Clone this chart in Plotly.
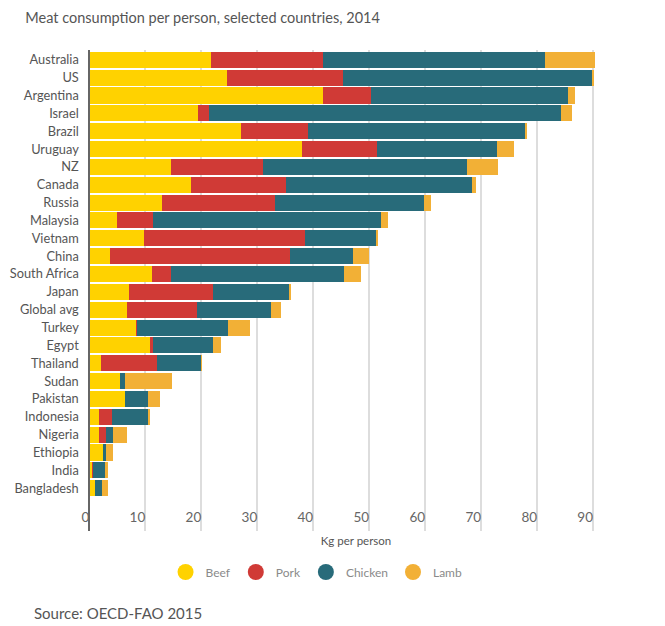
import plotly.graph_objects as go

countries = ["Australia", "US", "Argentina", "Israel", "Brazil", "Uruguay", "NZ", "Canada",
             "Russia", "Malaysia", "Vietnam", "China", "South Africa", "Japan", "Global avg",
             "Turkey", "Egypt", "Thailand", "Sudan", "Pakistan", "Indonesia", "Nigeria",
             "Ethiopia", "India", "Bangladesh"]
beef = [21.8, 24.6, 41.8, 19.5, 27.1, 38.0, 14.6, 18.2, 13.0, 5.0, 9.8, 3.75, 11.25, 7.1, 6.8,
        8.4, 10.9, 2.1, 5.4, 6.4, 1.8, 1.8, 2.5, 0.6, 1.0]
pork = [20.0, 20.8, 8.6, 1.9, 11.9, 13.4, 16.5, 17.0, 20.2, 6.3, 28.8, 32.1, 3.4, 15.0, 12.5,
        0.2, 0.5, 10.0, 0.0, 0.0, 2.3, 1.2, 0.0, 0.1, 0.0]
chicken = [39.6, 44.5, 35.1, 62.9, 38.9, 21.5, 36.4, 33.2, 26.6, 40.9, 12.7, 11.2, 30.9, 13.6, 13.2,
           16.1, 10.7, 7.9, 0.9, 4.1, 6.4, 1.3, 0.5, 2.1, 1.3]
lamb = [9.0, 0.2, 1.3, 2.0, 0.3, 3.0, 5.5, 0.7, 1.3, 1.1, 0.2, 2.9, 3.0, 0.2, 1.8,
        4.0, 1.5, 0.1, 8.4, 2.2, 0.4, 2.5, 1.3, 0.6, 1.1]
x_ticks = [0, 10, 20, 30, 40, 50, 60, 70, 80, 90]

series = [("Beef", beef, "#FFD200"), ("Pork", pork, "#D03A36"),
          ("Chicken", chicken, "#286B7A"), ("Lamb", lamb, "#F2B036")]

FONT = "Lato, Roboto, sans-serif"

X_MIN, X_MAX = -2.2, 97.5

fig = go.Figure()
for name, vals, col in series:
    fig.add_trace(go.Bar(y=countries, x=vals, orientation="h", name=name,
                         marker=dict(color=col, line=dict(width=0)), showlegend=False))
for name, vals, col in series:
    fig.add_trace(go.Scatter(x=[None], y=[None], mode="markers", name=name,
                             marker=dict(symbol="circle", size=17, color=col)))

fig.update_layout(
    width=665, height=626,
    barmode="stack", bargap=0.1,
    plot_bgcolor="white", paper_bgcolor="white",
    margin=dict(l=77, r=30, t=50, b=95),
    font=dict(family=FONT, color="#555555", size=13),
    title=dict(text="Meat consumption per person, selected countries, 2014",
               x=0.038, xanchor="left", y=0.971, yanchor="middle", pad=dict(l=0),
               font=dict(size=14.5, color="#555555", family=FONT)),
    legend=dict(orientation="h", x=0.476, xanchor="center", xref="container",
                y=1 - 572 / 626, yanchor="middle", yref="container",
                font=dict(size=12, color="#8a8a8a"), traceorder="normal"),
    annotations=[dict(text="Source: OECD-FAO 2015", xref="paper", yref="paper",
                      x=-0.08, xanchor="left", y=-0.171, yanchor="middle", showarrow=False,
                      font=dict(size=15, color="#555555"))],
)
fig.update_xaxes(range=[X_MIN, X_MAX], tickvals=x_ticks, ticktext=[str(t) for t in x_ticks],
                 showgrid=True, gridcolor="#dddddd", gridwidth=2, zeroline=False,
                 ticklabelposition="inside left", ticks="", automargin=False,
                 tickfont=dict(size=13.5, color="#666666"),
                 title=dict(text="Kg per person", font=dict(size=11.5, color="#555555"), standoff=12))
fig.update_yaxes(type="category", range=[26.4, -0.55], showline=True, linecolor="#666666",
                 linewidth=2, showgrid=False, ticks="", ticklabelstandoff=7, automargin=False,
                 anchor="free", position=(0 - X_MIN) / (X_MAX - X_MIN),
                 tickfont=dict(size=12.8, color="#555555"))

fig.write_html("out.html", post_script="document.body.style.margin='0';",
               config={"displayModeBar": False})
